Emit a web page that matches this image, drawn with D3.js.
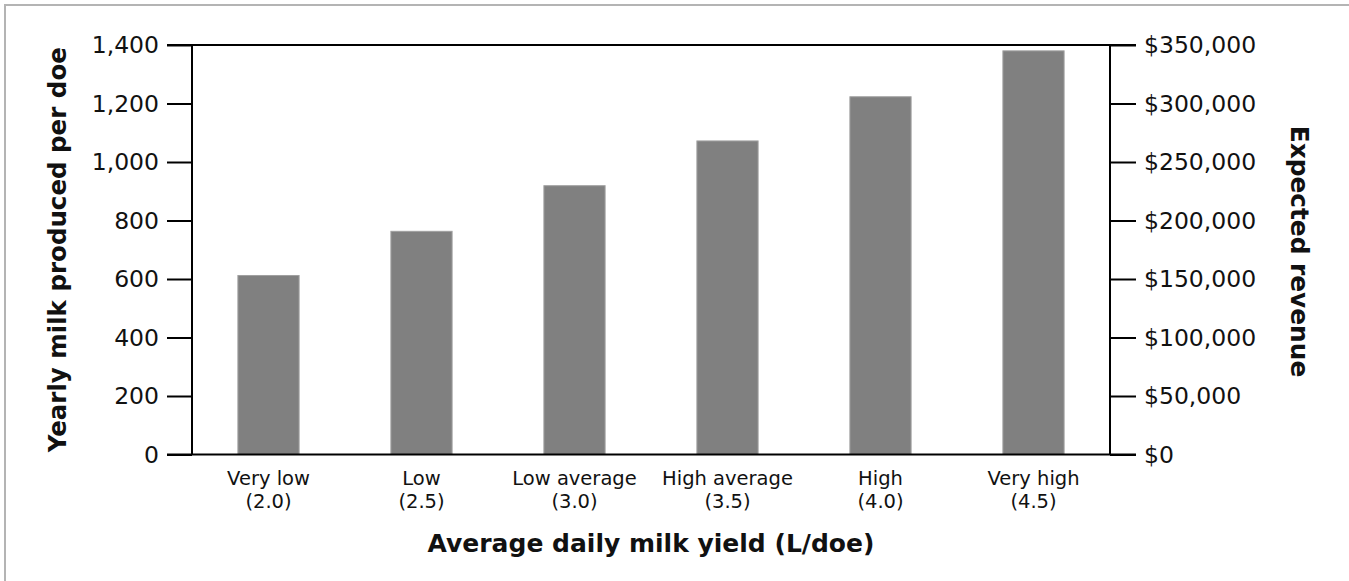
<!DOCTYPE html>
<html>
<head>
<meta charset="utf-8">
<script src="https://cdn.jsdelivr.net/npm/d3@7"></script>
<style>
  body { margin: 0; background: #fff; }
  text { font-family: "DejaVu Sans", sans-serif; fill: #111; }
</style>
</head>
<body>
<div id="chart-area"></div>
<script>
// data
var categories = ["Very low", "Low", "Low average", "High average", "High", "Very high"];
var dailyYield = ["(2.0)", "(2.5)", "(3.0)", "(3.5)", "(4.0)", "(4.5)"];
var yearlyMilk = [612, 763, 919, 1072, 1223, 1380];
var milkTicks = [0, 200, 400, 600, 800, 1000, 1200, 1400];
var revenueTicks = [0, 50000, 100000, 150000, 200000, 250000, 300000, 350000];

var width = 1349, height = 581;
var plot = { left: 192, right: 1110, top: 45, bottom: 454.5 };

var svg = d3.select("#chart-area").append("svg")
    .attr("width", width)
    .attr("height", height);

// thin gray frame
svg.append("rect")
    .attr("x", 5).attr("y", 5)
    .attr("width", 1400).attr("height", 700)
    .attr("fill", "none")
    .attr("stroke", "#b4b4b4")
    .attr("stroke-width", 2);

var x = d3.scaleBand().domain(categories).range([plot.left, plot.right])
    .paddingInner(0.6).paddingOuter(0.3);
var yMilk = d3.scaleLinear().domain([0, 1400]).range([plot.bottom, plot.top]);
var yRev = d3.scaleLinear().domain([0, 350000]).range([plot.bottom, plot.top]);

// bars
svg.selectAll("rect.bar")
    .data(yearlyMilk)
    .enter().append("rect")
    .attr("class", "bar")
    .attr("x", (d, i) => x(categories[i]))
    .attr("width", x.bandwidth())
    .attr("y", d => yMilk(d))
    .attr("height", d => yMilk(0) - yMilk(d))
    .attr("fill", "#808080")
    .attr("stroke", "#a0a0a0")
    .attr("stroke-width", 1);

// left axis
var leftAxis = svg.append("g")
    .attr("transform", `translate(${plot.left},0)`)
    .call(d3.axisLeft(yMilk).tickValues(milkTicks).tickSize(25).tickPadding(8).tickFormat(d3.format(",")));

// right axis
var rightAxis = svg.append("g")
    .attr("transform", `translate(${plot.right},0)`)
    .call(d3.axisRight(yRev).tickValues(revenueTicks).tickSize(26).tickPadding(8).tickFormat(d => "$" + d3.format(",")(d)));

[leftAxis, rightAxis].forEach(g => {
    g.select(".domain").remove();
    g.selectAll(".tick line").attr("stroke", "#000").attr("stroke-width", 2);
    g.selectAll(".tick text").attr("font-size", "23.5px").attr("fill", "#111")
        .style("font-family", "'DejaVu Sans', sans-serif");
});

// frame lines of the plot
svg.append("line").attr("x1", plot.left).attr("x2", plot.left)
    .attr("y1", plot.top).attr("y2", plot.bottom)
    .attr("stroke", "#000").attr("stroke-width", 2);
svg.append("line").attr("x1", plot.right).attr("x2", plot.right)
    .attr("y1", plot.top).attr("y2", plot.bottom)
    .attr("stroke", "#000").attr("stroke-width", 2);
svg.append("line").attr("x1", plot.left - 25).attr("x2", plot.right + 26)
    .attr("y1", plot.top).attr("y2", plot.top)
    .attr("stroke", "#000").attr("stroke-width", 2);
svg.append("line").attr("x1", plot.left - 25).attr("x2", plot.right + 26)
    .attr("y1", plot.bottom).attr("y2", plot.bottom)
    .attr("stroke", "#000").attr("stroke-width", 2);

// category labels, two lines each
var catLabels = svg.selectAll("text.cat")
    .data(categories)
    .enter().append("text")
    .attr("class", "cat")
    .attr("text-anchor", "middle")
    .attr("font-size", "19.5px");
catLabels.append("tspan")
    .attr("x", d => x(d) + x.bandwidth() / 2)
    .attr("y", 485)
    .text(d => d);
catLabels.append("tspan")
    .attr("x", d => x(d) + x.bandwidth() / 2)
    .attr("y", 508)
    .text((d, i) => dailyYield[i]);

// axis titles
svg.append("text")
    .attr("x", (plot.left + plot.right) / 2)
    .attr("y", 552)
    .attr("text-anchor", "middle")
    .attr("font-size", "25px")
    .attr("font-weight", "bold")
    .text("Average daily milk yield (L/doe)");

svg.append("text")
    .attr("transform", `translate(66,${(plot.top + plot.bottom) / 2}) rotate(-90)`)
    .attr("text-anchor", "middle")
    .attr("font-size", "24.5px")
    .attr("font-weight", "bold")
    .text("Yearly milk produced per doe");

svg.append("text")
    .attr("transform", `translate(1291,251.5) rotate(90)`)
    .attr("text-anchor", "middle")
    .attr("font-size", "24.8px")
    .attr("font-weight", "bold")
    .text("Expected revenue");
</script>
</body>
</html>
